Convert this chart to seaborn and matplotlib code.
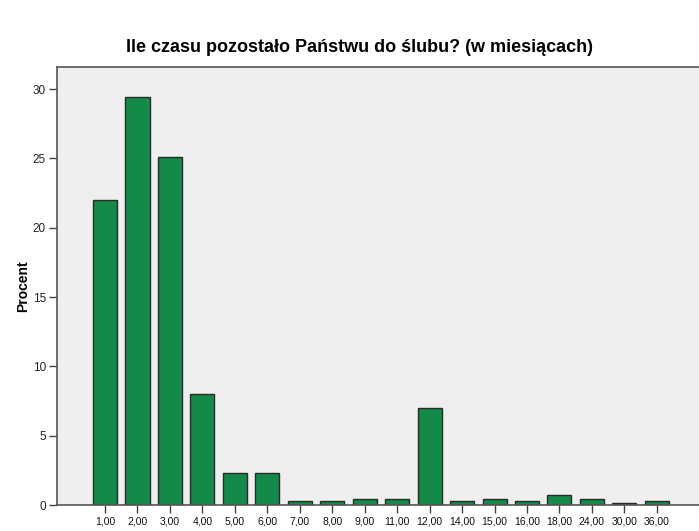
"""Bar chart: percentage of respondents by months remaining until the wedding."""

import matplotlib.pyplot as plt
import pandas as pd
import seaborn as sns

months = ["1,00", "2,00", "3,00", "4,00", "5,00", "6,00", "7,00", "8,00", "9,00",
          "11,00", "12,00", "14,00", "15,00", "16,00", "18,00", "24,00", "30,00", "36,00"]
percent = [22.0, 29.4, 25.1, 8.0, 2.3, 2.3, 0.3, 0.3, 0.45,
           0.45, 7.0, 0.3, 0.45, 0.3, 0.7, 0.45, 0.15, 0.3]

TITLE = "Ile czasu pozostało Państwu do ślubu? (w miesiącach)"
OUTPUT_PATH = "out.png"

df = pd.DataFrame({"months": months, "percent": percent})

sns.set_style("white")
plt.rcParams["font.family"] = ["Liberation Sans", "DejaVu Sans"]
plt.rcParams["text.color"] = "black"
plt.rcParams["axes.labelcolor"] = "black"

fig = plt.figure(figsize=(6.99, 5.31), dpi=100)
ax = fig.add_axes([57 / 699, 1 - 505 / 531, 1 - 57 / 699, (505 - 67) / 531])
ax.set_facecolor("#efefef")

sns.barplot(data=df, x="months", y="percent", ax=ax, color="#138a47",
            saturation=1, width=0.74, edgecolor="#2a2a2a", linewidth=1.0)

ax.set_xlim(-1.48, 18.3)
ax.set_ylim(0, 31.6)
ax.set_yticks([0, 5, 10, 15, 20, 25, 30])
ax.set_xlabel("")
ax.set_ylabel("Procent", fontsize=10, fontweight="bold", labelpad=2)
ax.tick_params(axis="y", left=True, length=6, width=1, color="#444444",
               labelsize=8.5, labelcolor="#222222", pad=2)
ax.tick_params(axis="x", bottom=True, length=6, width=1, color="#444444",
               labelsize=7.5, labelcolor="#111111", pad=2)

for side in ["top", "left", "bottom"]:
    ax.spines[side].set_visible(True)
    ax.spines[side].set_color("#555555")
    ax.spines[side].set_linewidth(1.2)
ax.spines["right"].set_visible(False)

fig.text(359 / 699, 1 - 47 / 531, TITLE, ha="center", va="center",
         fontsize=13, fontweight="bold")

fig.savefig(OUTPUT_PATH, dpi=100)
print(f"Saved figure to {OUTPUT_PATH}")
